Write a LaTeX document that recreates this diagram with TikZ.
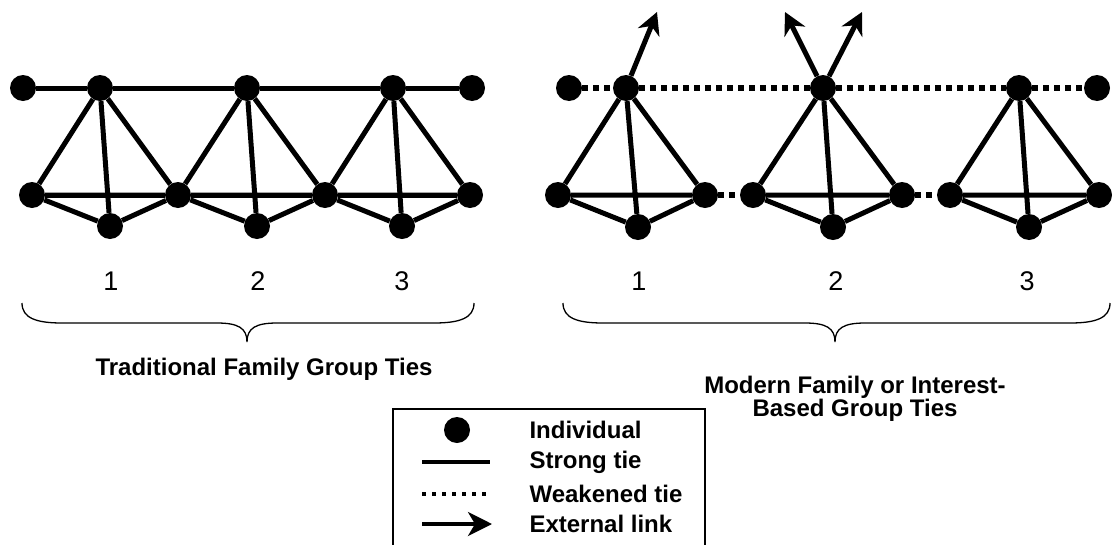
\documentclass[tikz,border=0pt]{standalone}
\usepackage{fontspec}
\setmainfont{Liberation Sans}
\usetikzlibrary{arrows.meta}

\tikzset{
  person/.style={circle, fill=black, inner sep=0pt, minimum size=26pt},
  strong/.style={line width=5pt},
  weak/.style={line width=6pt, dash pattern=on 6pt off 5pt},
  extlink/.style={line width=5pt, -{Stealth[length=22pt, width=23pt, inset=7pt]}},
  brace/.style={line width=1.3pt},
  caption/.style={font=\bfseries\fontsize{24}{22}\selectfont, align=center},
  keytext/.style={font=\bfseries\fontsize{24}{24}\selectfont, anchor=west},
  digit/.style={font=\fontsize{27}{29}\selectfont},
}
% hub, left, low, right
\newcommand\kinship[4]{
  \draw[strong] (#1) -- (#2) (#1) -- (#3) (#1) -- (#4)
    (#2) -- (#3) -- (#4) (#2) -- (#4) ;
}

\begin{document}
\begin{tikzpicture}[x=1pt, y=-1pt]
  \useasboundingbox (0,0) rectangle (1112,544) ;
  % Traditional family
  \node[person] (t0) at (23,88) {} ;
  \node[person] (th1) at (100,88) {} ;
  \node[person] (th2) at (247,88) {} ;
  \node[person] (th3) at (393,88) {} ;
  \node[person] (t4) at (472,88) {} ;
  \node[person] (tb0) at (32,195) {} ;
  \node[person] (tb1) at (178,195) {} ;
  \node[person] (tb2) at (325,195) {} ;
  \node[person] (tb3) at (470,195) {} ;
  \node[person] (tl1) at (110,226) {} ;
  \node[person] (tl2) at (257,226) {} ;
  \node[person] (tl3) at (402,226) {} ;
  \draw[strong] (t0) -- (th1) -- (th2) -- (th3) -- (t4) ;
  \draw[strong] (tb0) -- (tb1) -- (tb2) -- (tb3) ;
  \kinship{th1}{tb0}{tl1}{tb1}
  \kinship{th2}{tb1}{tl2}{tb2}
  \kinship{th3}{tb2}{tl3}{tb3}
  % Modern family
  \node[person] (m0) at (569,88) {} ;
  \node[person] (mh1) at (626,88) {} ;
  \node[person] (mh2) at (823,88) {} ;
  \node[person] (mh3) at (1019,88) {} ;
  \node[person] (m4) at (1097,88) {} ;
  \node[person] (ma1) at (558,195) {} ;
  \node[person] (mb1) at (705,195) {} ;
  \node[person] (ml1) at (638,227) {} ;
  \node[person] (ma2) at (753,195) {} ;
  \node[person] (mb2) at (902,195) {} ;
  \node[person] (ml2) at (833,227) {} ;
  \node[person] (ma3) at (950,195) {} ;
  \node[person] (mb3) at (1099,195) {} ;
  \node[person] (ml3) at (1029,227) {} ;
  \draw[weak] (m0) -- (mh1) -- (mh2) -- (mh3) -- (m4) ;
  \draw[weak] (mb1) -- (ma2) ;
  \draw[weak] (mb2) -- (ma3) ;
  \kinship{mh1}{ma1}{ml1}{mb1}
  \kinship{mh2}{ma2}{ml2}{mb2}
  \kinship{mh3}{ma3}{ml3}{mb3}
  \coordinate (x1) at (657,12) ;
  \coordinate (x2) at (785,12) ;
  \coordinate (x3) at (862,12) ;
  \draw[extlink] (mh1) -- (x1) ;
  \draw[extlink] (mh2) -- (x2) ;
  \draw[extlink] (mh2) -- (x3) ;
  % numbers and braces
  \node[digit] (tn1) at (111,281) {1} ;
  \node[digit] (tn2) at (258,281) {2} ;
  \node[digit] (tn3) at (402,281) {3} ;
  \node[digit] (mn1) at (639,281) {1} ;
  \node[digit] (mn2) at (836,281) {2} ;
  \node[digit] (mn3) at (1027,281) {3} ;
  \draw[brace] (22,303) .. controls (22,318) and (36,323) .. (62,323) -- (217,323)
    .. controls (238,323) and (247,328) .. (247,342)
    .. controls (247,328) and (256,323) .. (277,323) -- (434,323)
    .. controls (460,323) and (474,318) .. (474,303) ;
  \draw[brace] (563,303) .. controls (563,318) and (577,323) .. (603,323) -- (805,323)
    .. controls (826,323) and (835,328) .. (835,342)
    .. controls (835,328) and (844,323) .. (865,323) -- (1070,323)
    .. controls (1096,323) and (1110,318) .. (1110,303) ;
  \node[caption] (tcap) at (264,369) {Traditional Family Group Ties} ;
  \node[caption] (mcap) at (855,399) {Modern Family or Interest-\\Based Group Ties} ;
  % key
  \draw[line width=1.2pt] (393,550) |- (705,409) -- (705,550) ;
  \node[person] (kdot) at (457,430) {} ;
  \coordinate (ks1) at (422,462) ; \coordinate (ks2) at (490,462) ;
  \coordinate (kw1) at (422,494) ; \coordinate (kw2) at (490,494) ;
  \coordinate (ke1) at (422,524) ; \coordinate (ke2) at (492,524) ;
  \draw[line width=3.5pt] (ks1) -- (ks2) ;
  \draw[line width=3.5pt, dash pattern=on 3.5pt off 6.5pt] (kw1) -- (kw2) ;
  \draw[line width=3.5pt, -{Stealth[length=24pt, width=24pt, inset=7pt]}] (ke1) -- (ke2) ;
  \node[keytext] (kt1) at (526,430) {Individual} ;
  \node[keytext] (kt2) at (526,462) {Strong tie} ;
  \node[keytext] (kt3) at (526,494) {Weakened tie} ;
  \node[keytext] (kt4) at (526,524) {External link} ;
\end{tikzpicture}
\end{document}
